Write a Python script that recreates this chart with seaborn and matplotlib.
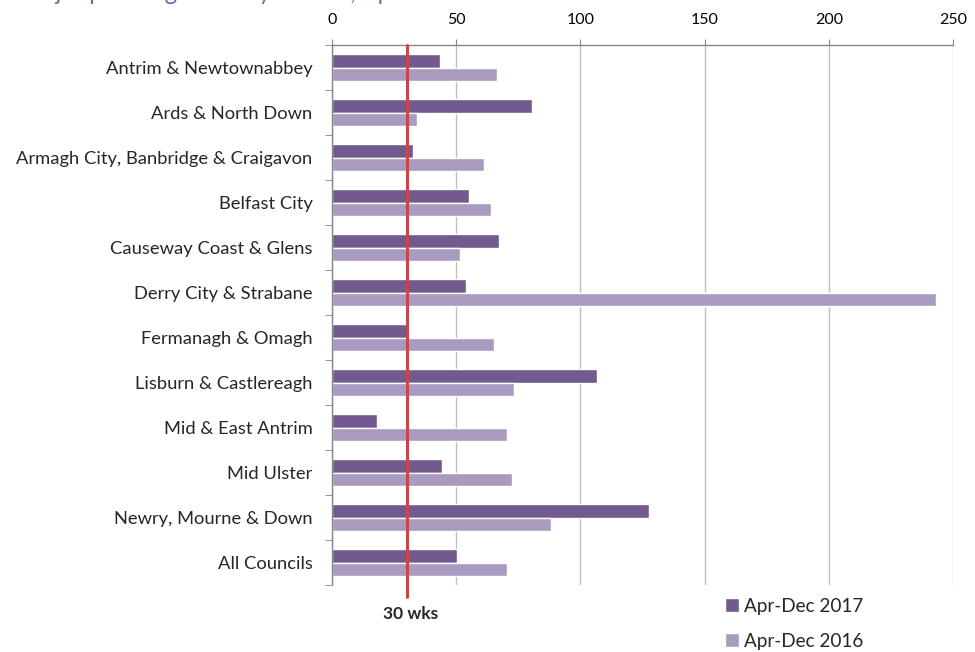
import matplotlib
matplotlib.use("Agg")
import matplotlib.pyplot as plt
import seaborn as sns
import pandas as pd
import numpy as np
from matplotlib.patches import Patch

councils = [
    "Antrim & Newtownabbey",
    "Ards & North Down",
    "Armagh City, Banbridge & Craigavon",
    "Belfast City",
    "Causeway Coast & Glens",
    "Derry City & Strabane",
    "Fermanagh & Omagh",
    "Lisburn & Castlereagh",
    "Mid & East Antrim",
    "Mid Ulster",
    "Newry, Mourne & Down",
    "All Councils",
]
apr_dec_2017 = [43.5, 80.5, 32.6, 55.1, 67.4, 54.1, 30.2, 106.6, 18.2, 44.4, 127.5, 50.3]
apr_dec_2016 = [66.4, 34.1, 61.1, 64.2, 51.5, 243.2, 65.2, 73.3, 70.4, 72.5, 88.2, 70.4]
series_names = ["Apr-Dec 2017", "Apr-Dec 2016"]
x_ticks = [0, 50, 100, 150, 200, 250]
target = 30
target_label = "30 wks"
title = "Major planning times by council, Apr-Dec 2017"

c2017 = "#725A8F"
c2016 = "#A99BC0"

df = pd.DataFrame({
    "council": councils * 2,
    "weeks": apr_dec_2017 + apr_dec_2016,
    "period": [series_names[0]] * len(councils) + [series_names[1]] * len(councils),
})

sns.set_style("white")
plt.rcParams["font.family"] = ["Lato", "DejaVu Sans"]

fig = plt.figure(figsize=(9.75, 6.52), dpi=100)
ax = fig.add_axes([332 / 975, 1 - 585 / 652, (953 - 332) / 975, (585 - 45) / 652])

sns.barplot(data=df, y="council", x="weeks", hue="period", order=councils,
            hue_order=series_names, palette=[c2017, c2016], orient="h",
            width=0.6, ax=ax, legend=False, saturation=1)

ax.set_xlim(0, 250)
ax.set_ylim(len(councils) - 0.5, -0.5)
ax.set_xticks(x_ticks)
ax.xaxis.tick_top()
ax.set_xlabel("")
ax.set_ylabel("")
ax.grid(axis="x", color="#BFBFBF", lw=1)
ax.set_axisbelow(True)
for s in ["right", "bottom"]:
    ax.spines[s].set_visible(False)
for s in ["left", "top"]:
    ax.spines[s].set_color("#868686")
    ax.spines[s].set_linewidth(1)

ax.tick_params(axis="x", which="major", top=True, length=4, color="#868686",
               labelsize=11.5, pad=9, labelcolor="black")
ax.tick_params(axis="y", which="major", length=0, labelsize=13.2, pad=14)
ax.set_yticks(np.arange(len(councils) + 1) - 0.5, minor=True)
ax.tick_params(axis="y", which="minor", left=True, length=5, color="#868686")

ax.axvline(target, ymin=-0.022, ymax=1, color="#C9474A", lw=2.2, clip_on=False, zorder=5)
fig.text(411 / 975, 1 - 614 / 652, target_label, ha="center", va="center",
         fontsize=12.5, fontweight="bold")

handles = [Patch(facecolor=c2017), Patch(facecolor=c2016)]
fig.legend(handles, series_names, loc="upper left", bbox_to_anchor=(717 / 975, 1 - 590 / 652),
           frameon=False, fontsize=13.6, handlelength=0.75, handleheight=0.8,
           handletextpad=0.3, labelspacing=0.95, borderaxespad=0)

fig.text(22 / 975, 1 - 0.5 / 652, title, ha="left", va="baseline", fontsize=17, color="#7F62A6")

fig.savefig("out.png", dpi=100)
